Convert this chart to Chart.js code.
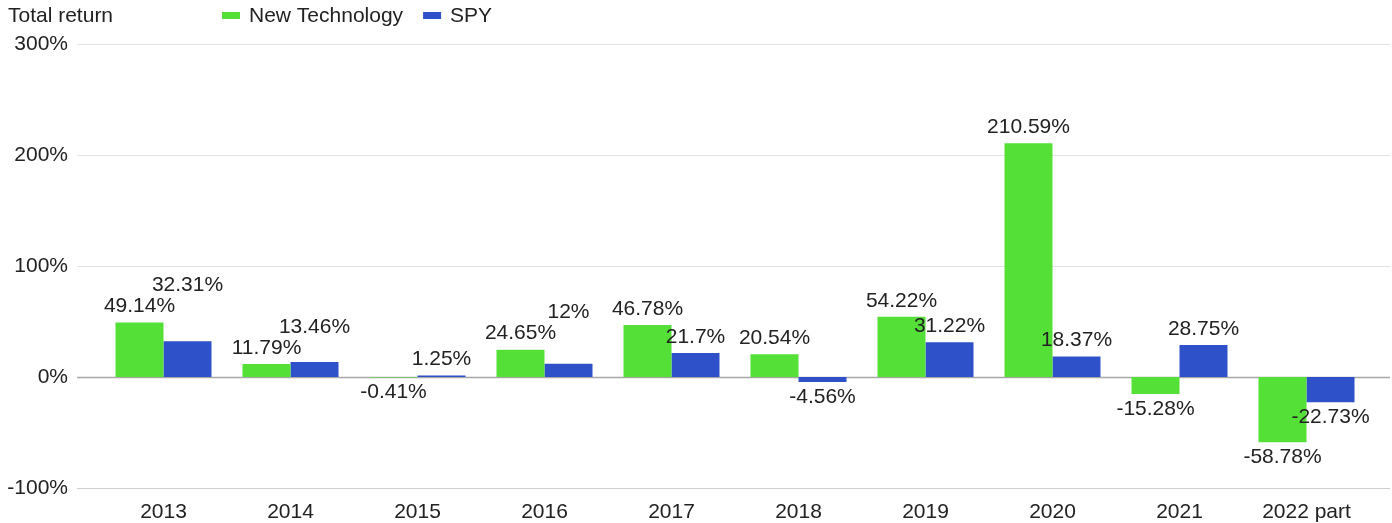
<!DOCTYPE html>
<html>
<head>
<meta charset="utf-8">
<script src="https://cdn.jsdelivr.net/npm/chart.js@4.4.1/dist/chart.umd.min.js"></script>
<style>
  html, body { margin: 0; padding: 0; background: #fff; overflow: hidden; }
  #wrap { width: 1392px; height: 523px; position: relative; }
  #myChart { display: block; }
</style>
</head>
<body>
<div id="wrap"><canvas id="myChart"></canvas></div>
<script>
let labels = ['2013', '2014', '2015', '2016', '2017', '2018', '2019', '2020', '2021', '2022 part'];
let newTech = [49.14, 11.79, -0.41, 24.65, 46.78, 20.54, 54.22, 210.59, -15.28, -58.78];
let spy = [32.31, 13.46, 1.25, 12, 21.7, -4.56, 31.22, 18.37, 28.75, -22.73];
let yTicks = [-100, 0, 100, 200, 300];

const GREEN = 'rgb(85, 224, 56)';
const BLUE = 'rgb(46, 80, 200)';
const TEXT = '#222';
const FONT = '"Liberation Sans", Arial, sans-serif';

Chart.defaults.font.family = FONT;
Chart.defaults.color = TEXT;

let fmt = v => v + '%';

// grid lines run wider than the bars
let gridPlugin = {
    id: 'wideGrid',
    beforeDatasetsDraw(chart) {
        let ctx = chart.ctx, y = chart.scales.y, a = chart.chartArea;
        ctx.save();
        yTicks.forEach(t => {
            let py = Math.round(y.getPixelForValue(t)) + 0.5;
            ctx.strokeStyle = t === 0 ? '#a8a8a8' : (t === -100 ? '#cfcfcf' : '#e2e2e2');
            ctx.lineWidth = t === 0 ? 1.5 : 1.2;
            ctx.beginPath();
            ctx.moveTo(a.left - 23, py);
            ctx.lineTo(a.right + 20, py);
            ctx.stroke();
        });
        ctx.restore();
    }
};

// value labels, pushed apart when they collide
let valuePlugin = {
    id: 'values',
    afterDatasetsDraw(chart) {
        let ctx = chart.ctx;
        ctx.save();
        ctx.font = '21px ' + FONT;
        ctx.fillStyle = TEXT;
        ctx.textAlign = 'center';
        ctx.textBaseline = 'middle';
        let m0 = chart.getDatasetMeta(0), m1 = chart.getDatasetMeta(1);
        let ds = chart.data.datasets;
        for (let i = 0; i < labels.length; i++) {
            let placed = [];
            [[m0, ds[0].data[i]], [m1, ds[1].data[i]]].forEach(([meta, v]) => {
                let bar = meta.data[i];
                let txt = fmt(v);
                let w = ctx.measureText(txt).width;
                let y = v >= 0 ? Math.min(bar.y, bar.base) - 16 : Math.max(bar.y, bar.base) + 15;
                placed.forEach(p => {
                    let hOver = Math.abs(p.x - bar.x) < (p.w + w) / 2;
                    if (hOver && Math.abs(p.y - y) < 21) {
                        y = v >= 0 ? p.y - 21 : p.y + 21;
                    }
                });
                placed.push({ x: bar.x, y: y, w: w });
                ctx.fillText(txt, bar.x, y);
            });
        }
        ctx.restore();
    }
};

// title on the left and legend
let headerPlugin = {
    id: 'header',
    afterDraw(chart) {
        let ctx = chart.ctx;
        ctx.save();
        ctx.font = '21px ' + FONT;
        ctx.fillStyle = TEXT;
        ctx.textBaseline = 'middle';
        ctx.textAlign = 'left';
        ctx.fillText('Total return', 8, 16);
        let x = 222;
        chart.data.datasets.forEach(d => {
            ctx.fillStyle = d.backgroundColor;
            ctx.fillRect(x, 12, 18, 7);
            ctx.fillStyle = TEXT;
            ctx.fillText(d.label, x + 27, 16);
            x += 27 + ctx.measureText(d.label).width + 20;
        });
        ctx.restore();
    }
};

let data = {
    labels: labels,
    datasets: [{
        label: 'New Technology',
        backgroundColor: GREEN,
        data: newTech,
    }, {
        label: 'SPY',
        backgroundColor: BLUE,
        data: spy,
    }]
};

let config = {
    type: 'bar',
    data: data,
    options: {
        responsive: true,
        maintainAspectRatio: false,
        animation: false,
        layout: { padding: { top: 44, right: 22, left: 0, bottom: 0 } },
        datasets: {
            bar: { categoryPercentage: 0.756, barPercentage: 1.0 }
        },
        plugins: {
            legend: { display: false },
            tooltip: { enabled: false }
        },
        scales: {
            x: {
                grid: { display: false, drawTicks: false },
                border: { display: false },
                ticks: { font: { size: 21 }, color: TEXT, padding: 12, maxRotation: 0 },
                afterFit: s => { s.height = 35; s.paddingLeft = 0; s.paddingRight = 0; }
            },
            y: {
                min: -100,
                max: 300,
                afterBuildTicks: s => { s.ticks = yTicks.map(v => ({ value: v })); },
                grid: { display: false, drawTicks: false },
                border: { display: false },
                ticks: { font: { size: 21 }, color: TEXT, padding: 32, callback: v => v + '%' },
                afterFit: s => { s.width = 100; s.paddingTop = 0; s.paddingBottom = 0; }
            }
        }
    },
    plugins: [gridPlugin, valuePlugin, headerPlugin]
};

let myChart = new Chart(document.getElementById('myChart'), config);
</script>
</body>
</html>
